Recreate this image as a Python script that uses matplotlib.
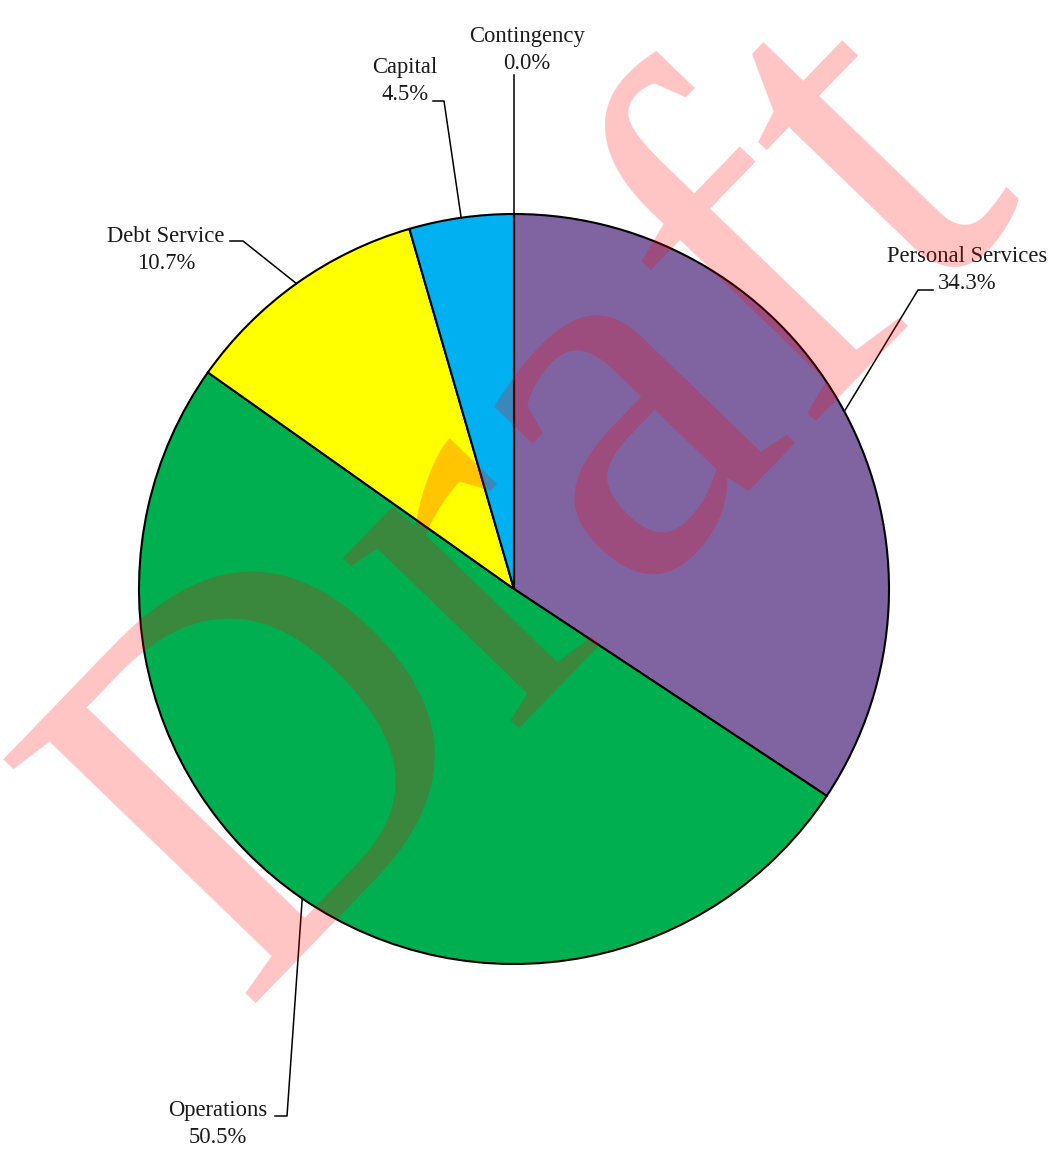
import numpy as np
import matplotlib
matplotlib.use("Agg")
from matplotlib import pyplot as plt

categories = ["Personal Services", "Operations", "Debt Service", "Capital", "Contingency"]
shares = [34.3, 50.5, 10.7, 4.5, 0.0]
colors = ["#8064A2", "#00B050", "#FFFF00", "#00B0F0", "#A5A5A5"]

W, H = 1056, 1150
plt.rcParams['font.family'] = ['Liberation Serif', 'DejaVu Serif']

fig = plt.figure(figsize=(W / 100, H / 100), dpi=100)
ax = fig.add_axes([0, 0, 1, 1])

center = (514, H - 589)
radius = 375
wedges, _ = ax.pie(shares, colors=colors, startangle=90, counterclock=False,
                   center=center, radius=radius,
                   wedgeprops=dict(edgecolor="black", linewidth=1.5))

# label layout in pixel coords: elbow point, line end, text centre
layout = {
    "Personal Services": ((918, 290), (933, 290), (967, 270)),
    "Operations": ((287, 1116), (275, 1116), (218, 1124)),
    "Debt Service": ((243, 241), (230, 241), (166, 250)),
    "Capital": ((444, 101), (433, 101), (405, 81)),
    "Contingency": ((514, 75), (514, 75), (527, 50)),
}

for w, cat, val in zip(wedges, categories, shares):
    mid = np.deg2rad((w.theta1 + w.theta2) / 2)
    ax_pt = (center[0] + radius * np.cos(mid), center[1] + radius * np.sin(mid))
    elbow, end, txt = layout[cat]
    xs = [ax_pt[0], elbow[0], end[0]]
    ys = [ax_pt[1], H - elbow[1], H - end[1]]
    ax.plot(xs, ys, color="black", lw=1.1, zorder=3)
    ax.text(txt[0], H - txt[1], f"{cat}\n{val:.1f}%", ha="center", va="center",
            multialignment="center", fontsize=16.3, linespacing=1.33, color="#1a1a1a", zorder=4)

# watermark
ax.text(240, H - 1003, "Draft", fontsize=385, color="red", alpha=0.23,
        rotation=46, rotation_mode="anchor", ha="left", va="baseline", zorder=5)

ax.set_xlim(0, W)
ax.set_ylim(0, H)
ax.axis("off")
fig.savefig("out.png", dpi=100)
